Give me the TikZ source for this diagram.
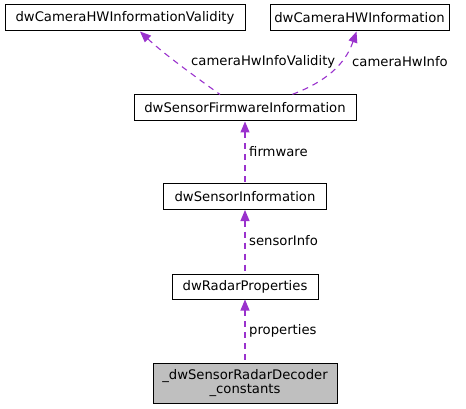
\documentclass[tikz,border=0pt]{standalone}
\usepackage{fontspec}
\setmainfont{DejaVu Sans}
\usetikzlibrary{arrows.meta}
\definecolor{orchid}{RGB}{154,50,205}
\definecolor{boxgray}{RGB}{191,191,191}

\begin{document}
\begin{tikzpicture}[x=1pt,y=-1pt,
  every node/.style={font=\fontsize{13.2}{14.5}\selectfont},
  cls/.style={draw=black,line width=1pt,rectangle,inner sep=0pt,minimum height=26pt},
  link/.style={draw=orchid,line width=1.1pt,dash pattern=on 6pt off 5pt,{Triangle[length=11pt,width=9pt]}-},
  lbl/.style={inner sep=0pt,anchor=west}]
\useasboundingbox (0,0) rectangle (466,409);
% classes
\node[cls,minimum width=240pt] (valid) at (125,18) {dwCameraHWInformationValidity};
\node[cls,minimum width=179pt] (hwinfo) at (359.5,18) {dwCameraHWInformation};
\node[cls,minimum width=222pt] (fw) at (245,108) {dwSensorFirmwareInformation};
\node[cls,minimum width=163pt] (sinfo) at (245,196.5) {dwSensorInformation};
\node[cls,minimum width=146pt,minimum height=25pt] (radar) at (245,286.5) {dwRadarProperties};
\node[cls,minimum width=184pt,minimum height=40pt,fill=boxgray,align=center] (dec) at (245,383)
  {\_dwSensorRadarDecoder\\\_constants};
% members
\draw[link] ([xshift=15pt]valid.south) .. controls (165,55) and (200,80) .. ([xshift=-25pt]fw.north);
\node[lbl] (l1) at (191,62) {cameraHwInfoValidity};
\draw[link] ([xshift=-3pt]hwinfo.south) .. controls (345,65) and (325,82) .. ([xshift=47pt]fw.north);
\node[lbl] (l2) at (352,62) {cameraHwInfo};
\draw[link] (fw.south) -- (sinfo.north);
\node[lbl] (l3) at (249,152) {firmware};
\draw[link] (sinfo.south) -- (radar.north);
\node[lbl] (l4) at (249,241) {sensorInfo};
\draw[link] (radar.south) -- (dec.north);
\node[lbl] (l5) at (249,331) {properties};
\end{tikzpicture}
\end{document}
